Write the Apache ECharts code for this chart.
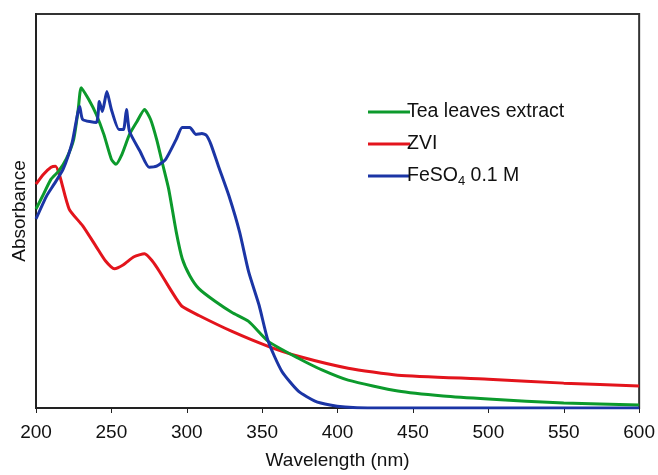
<!DOCTYPE html>
<html><head><meta charset="utf-8">
<script src="https://cdn.jsdelivr.net/npm/echarts@6/dist/echarts.min.js"></script>
<style>html,body{margin:0;padding:0;background:#fff}#c{width:658px;height:475px}</style>
</head><body><div id="c"></div>
<script>
const xTicks = [200, 250, 300, 350, 400, 450, 500, 550, 600];
const seriesNames = ['Tea leaves extract', 'ZVI', 'FeSO4 0.1 M'];
const teaExtract = [[200,200],[205,215],[210,230],[215,238],[220,250],[225,270],[228,300],[230,322],[235,310],[240,295],[245,275],[250,250],[253,245],[257,255],[262,275],[267,288],[272,300],[276,290],[280,270],[284,245],[288,220],[293,177],[297,150],[302,133],[308,120],[319,107],[330,96],[341,87],[354,67],[374,50],[390,38],[407,28],[440,17],[470,12],[500,9],[550,5],[600,3]];
const zvi = [[200,225],[205,235],[210,242],[213,243],[216,232],[222,200],[231,183],[240,162],[246,148],[252,140],[258,144],[265,152],[272,155],[277,148],[282,137],[288,122],[293,110],[297,102],[308,93],[330,77],[354,62],[374,52],[407,40],[440,33],[500,29],[550,25],[600,22]];
const feso4 = [[200,190],[207,213],[212,225],[218,240],[224,267],[229,303],[231,290],[240,287],[242,308],[244,298],[247,318],[250,300],[255,280],[258,280],[260,300],[262,278],[269,258],[275,242],[280,243],[286,250],[293,270],[297,282],[302,282],[306,275],[310,276],[313,274],[316,265],[321,243],[328,213],[335,177],[341,137],[348,103],[354,67],[363,37],[374,17],[385,7],[395,3],[405,1],[420,0],[600,0]];
const colors = ['#0c9a2c', '#e3141c', '#1b35a5'];

const font = 'Liberation Sans, Arial, sans-serif';
const chart = echarts.init(document.getElementById('c'));
const mk = (i, data) => ({name: seriesNames[i], type: 'line', data: data, showSymbol: false, smooth: 0.2,
  lineStyle: {width: 3, color: colors[i]}, itemStyle: {color: colors[i]}});
chart.setOption({
  animation: false,
  grid: {left: 36, top: 14, right: 14, bottom: 64, show: true, borderColor: '#333', borderWidth: 2},
  legend: {
    orient: 'vertical', left: 363, top: 97, itemGap: 12, itemWidth: 42, itemHeight: 23,
    icon: 'path://M0,10 L42,10 L42,13 L0,13 Z',
    data: seriesNames,
    formatter: n => n === 'FeSO4 0.1 M' ? '{a|FeSO}{s|4}{a| 0.1 M}' : '{a|' + n + '}',
    textStyle: {padding: [0,0,0,-8], rich: {
      a: {fontFamily: font, fontSize: 19.5, color: '#111'},
      s: {fontFamily: font, fontSize: 13, color: '#111', padding: [11,0,0,0]}
    }}
  },
  xAxis: {
    type: 'value', min: 200, max: 600, interval: 50,
    name: 'Wavelength (nm)', nameLocation: 'middle', nameGap: 43,
    nameTextStyle: {fontFamily: font, fontSize: 19, color: '#111'},
    axisLine: {lineStyle: {color: '#222', width: 2}},
    axisTick: {show: true, length: 5, lineStyle: {color: '#222'}},
    axisLabel: {fontFamily: font, fontSize: 19, color: '#111', margin: 15,
      formatter: v => xTicks.includes(v) ? String(v) : ''},
    splitLine: {show: false}
  },
  yAxis: {
    type: 'value', min: 0, max: 396,
    name: 'Absorbance', nameLocation: 'middle', nameGap: 7,
    nameTextStyle: {fontFamily: font, fontSize: 19, color: '#111'},
    axisLine: {show: true, lineStyle: {color: '#222', width: 2}},
    axisTick: {show: false}, axisLabel: {show: false}, splitLine: {show: false}
  },
  series: [mk(1, zvi), mk(0, teaExtract), mk(2, feso4)].map((s, k) => Object.assign(s, {z: [2,3,4][k]}))
});
</script></body></html>
